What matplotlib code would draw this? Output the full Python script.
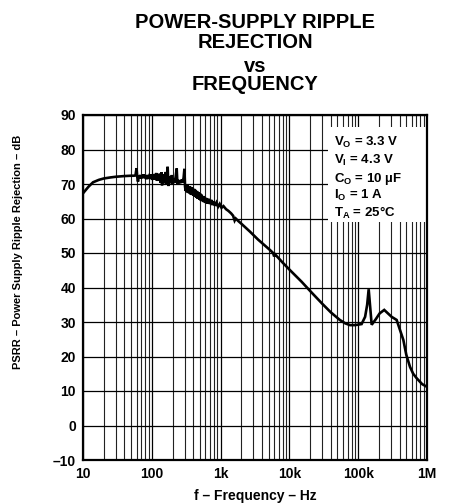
import matplotlib
matplotlib.use("Agg")
import matplotlib.pyplot as plt
from matplotlib.patches import Rectangle

plt.rcParams['font.family'] = ['Liberation Sans', 'DejaVu Sans']
plt.rcParams['font.weight'] = 'bold'
plt.rcParams['mathtext.fontset'] = 'custom'
plt.rcParams['mathtext.rm'] = 'Liberation Sans:bold'
plt.rcParams['mathtext.bf'] = 'Liberation Sans:bold'
plt.rcParams['mathtext.it'] = 'Liberation Sans:bold'

freq_hz = [10, 12, 14, 17, 20, 25, 30, 40, 50, 55, 58, 60, 61.5, 63, 64.5, 66, 68, 70,
           72, 74, 76, 78, 80, 83, 86, 89, 92, 95, 98, 101, 104, 107, 110, 113, 116, 119,
           122, 126, 130, 134, 138, 141, 144, 148, 152, 156, 160, 163, 166, 170, 174,
           178, 182, 186, 190, 196, 202, 208, 214, 222, 230, 236, 242, 248, 256, 264,
           272, 280, 290, 298, 304, 310, 316, 322, 328, 335, 342, 350, 358, 366, 375,
           384, 393, 402, 412, 422, 432, 443, 454, 466, 478, 490, 502, 515, 530, 545,
           560, 575, 590, 610, 630, 650, 670, 700, 730, 760, 790, 830, 870, 920, 970,
           1030, 1100, 1200, 1300, 1420, 1520, 1600, 1660, 1800, 2000, 2670, 3500,
           5200, 5800, 6000, 6200, 8000, 10000, 15000, 20000, 30000, 40000, 54000,
           65000, 76000, 90000, 112000, 126000, 135000, 142000, 150000, 157000, 165000,
           180000, 205000, 239000, 270000, 306000, 362000, 400000, 453000, 500000,
           566000, 630000, 708000, 850000, 1000000]
psrr_db = [67.3, 69.2, 70.5, 71.2, 71.6, 71.9, 72.1, 72.3, 72.4, 72.4, 72.5, 74.6, 72.0,
           70.7, 72.3, 71.8, 72.6, 71.6, 72.4, 71.8, 72.8, 71.7, 72.5, 71.4, 72.6, 71.5,
           72.3, 71.7, 72.8, 71.2, 72.6, 71.4, 72.9, 71.3, 73.2, 70.9, 72.5, 71.0, 73.0,
           70.4, 73.4, 69.6, 72.4, 71.0, 72.8, 70.2, 73.5, 70.0, 72.2, 75.0, 69.4, 71.8,
           70.6, 72.3, 70.2, 72.6, 70.0, 71.6, 70.4, 72.0, 74.5, 69.8, 71.2, 70.2, 71.0,
           70.3, 71.3, 70.4, 71.8, 74.4, 69.3, 68.0, 69.9, 67.7, 69.7, 67.4, 69.4, 67.3,
           69.3, 67.0, 69.1, 66.8, 68.9, 66.6, 68.6, 66.3, 68.3, 66.0, 68.0, 65.7, 67.6,
           65.5, 67.3, 65.2, 66.9, 65.0, 66.5, 64.7, 66.2, 64.5, 65.9, 64.3, 65.7, 64.2,
           65.4, 63.9, 65.0, 63.7, 64.6, 63.4, 64.2, 63.1, 63.6, 62.7, 62.2, 61.5, 60.8,
           59.4, 60.0, 59.3, 58.5, 56.2, 53.9, 50.9, 50.0, 49.0, 49.6, 47.2, 45.2, 41.7,
           39.0, 35.3, 32.8, 30.6, 29.6, 29.1, 29.1, 29.4, 31.5, 35.0, 39.5, 34.0, 29.2,
           29.8, 30.8, 32.5, 33.5, 32.5, 31.5, 30.6, 28.0, 24.8, 20.5, 17.0, 15.0, 13.7,
           12.0, 11.2]

x_ticks = [10, 100, 1e3, 1e4, 1e5, 1e6]
x_tick_labels = ['10', '100', '1k', '10k', '100k', '1M']
y_ticks = list(range(-10, 91, 10))

conditions = [r'V$_\mathrm{O}$ = 3.3 V', r'V$_\mathrm{I}$ = 4.3 V',
              r'C$_\mathrm{O}$ = 10 µF', r'I$_\mathrm{O}$ = 1 A',
              r'T$_\mathrm{A}$ = 25°C']

fig = plt.figure(figsize=(4.5, 5.04), dpi=100)
ax = fig.add_axes([83/450, 44/504, 344/450, 345/504])
ax.set_xscale('log')
ax.set_xlim(10, 1e6)
ax.set_ylim(-10, 90)

# grid
minor = [m * 10**d for d in range(1, 6) for m in range(2, 10)]
for v in minor:
    ax.axvline(v, color='#222222', lw=0.8, zorder=1)
for v in x_ticks:
    ax.axvline(v, color='black', lw=0.9, zorder=1)
for v in y_ticks:
    ax.axhline(v, color='black', lw=0.9, zorder=1)

ax.plot(freq_hz, psrr_db, color='black', lw=1.9, zorder=3, solid_joinstyle='miter')

ax.add_patch(Rectangle((0.712, 0.69), 0.285, 0.275, transform=ax.transAxes,
                       facecolor='white', edgecolor='none', zorder=2))
for i, s in enumerate(conditions):
    ax.text(0.731, 0.909 - i * 0.051, s, transform=ax.transAxes, fontsize=9.5,
            fontweight='bold', va='baseline', ha='left', zorder=4)

ax.set_xticks(x_ticks)
ax.set_xticklabels(x_tick_labels)
ax.xaxis.set_minor_locator(matplotlib.ticker.NullLocator())
ax.set_yticks(y_ticks)
ax.set_yticklabels([str(v) if v >= 0 else '\u2013' + str(-v) for v in y_ticks])
ax.tick_params(length=0, labelsize=10, pad=5)
for lab in ax.get_xticklabels() + ax.get_yticklabels():
    lab.set_fontweight('bold')
for sp in ax.spines.values():
    sp.set_linewidth(1.6)
    sp.set_zorder(5)

title_lines = ['POWER-SUPPLY RIPPLE', 'REJECTION', 'vs', 'FREQUENCY']
title_y = [0.9444, 0.9048, 0.8571, 0.8214]
for s, y in zip(title_lines, title_y):
    fig.text(0.567, y, s, ha='center', va='baseline', fontsize=14.5, fontweight='bold')

fig.text(0.567, 0.016, 'f \u2013 Frequency \u2013 Hz', ha='center', va='center', fontsize=10, fontweight='bold')
fig.text(0.04, 0.5, 'PSRR \u2013 Power Supply Ripple Rejection \u2013 dB', ha='center', va='center',
         rotation=90, fontsize=8, fontweight='bold')

fig.savefig('out.png', dpi=100)
